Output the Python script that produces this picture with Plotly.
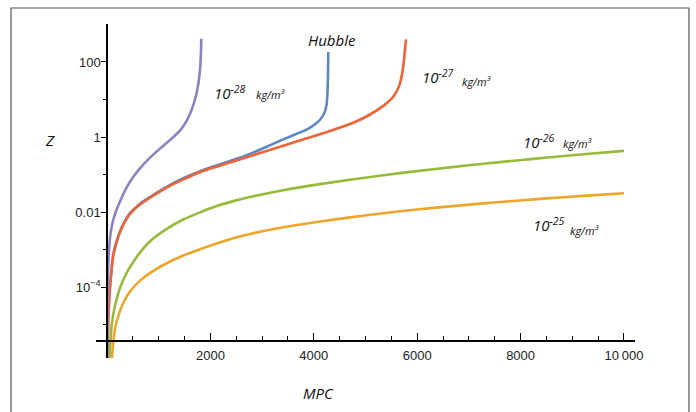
import plotly.graph_objects as go

# ---------------- data ----------------
# distance in Mpc, redshift z
hub_d = [6, 25, 58, 91, 116, 155, 232, 329, 445, 638, 832, 1155, 1476, 1799, 2379, 2766, 3056, 3346, 3636, 3863, 4023, 4120, 4197, 4246, 4265, 4275, 4280]
hub_z = [1e-6, 1.5e-5, 1.05e-4, 3.3e-4, 6.6e-4, 1.17e-3, 2.6e-3, 5.2e-3, 9.3e-3, 0.0166, 0.0251, 0.0468, 0.0794, 0.123, 0.229, 0.355, 0.525, 0.794, 1.17, 1.58, 2.19, 2.88, 4.17, 7.08, 15.8, 50, 186]

r27_d = [6, 25, 58, 91, 116, 155, 232, 329, 445, 638, 832, 1155, 1476, 1799, 2379, 3023, 3669, 4313, 4797, 5087, 5344, 5532, 5648, 5716, 5754, 5783]
r27_z = [1e-6, 1.45e-5, 1e-4, 3.16e-4, 6.3e-4, 1.12e-3, 2.5e-3, 5e-3, 8.9e-3, 0.0158, 0.024, 0.0447, 0.0741, 0.115, 0.209, 0.398, 0.759, 1.45, 2.51, 3.98, 6.76, 11.7, 22.4, 56, 158, 398]

r28_d = [2, 8, 25, 58, 97, 155, 251, 367, 509, 658, 832, 1025, 1219, 1412, 1547, 1644, 1721, 1770, 1805, 1818, 1824]
r28_z = [1e-6, 4e-5, 4e-4, 2e-3, 4.5e-3, 8.9e-3, 0.019, 0.042, 0.087, 0.158, 0.282, 0.49, 0.83, 1.48, 2.82, 5.62, 12.6, 28.2, 79, 200, 417]

r26_d = [44, 91, 155, 251, 381, 574, 832, 1155, 1476, 1799, 2122, 2443, 2766, 3410, 4056, 4700, 5344, 5990, 6634, 7279, 7925, 8569, 9213, 10000]
r26_z = [1e-6, 1e-5, 3.2e-5, 9.5e-5, 2.4e-4, 6.3e-4, 1.66e-3, 3.55e-3, 6.3e-3, 9.8e-3, 0.0145, 0.0195, 0.0251, 0.038, 0.0537, 0.0724, 0.0955, 0.123, 0.155, 0.193, 0.237, 0.288, 0.347, 0.427]

r25_d = [87, 155, 219, 315, 445, 638, 896, 1155, 1476, 1799, 2122, 2443, 2766, 3410, 4056, 4700, 5344, 5990, 6634, 7279, 7925, 8569, 9213, 10000]
r25_z = [1e-6, 7.9e-6, 1.7e-5, 3.8e-5, 7.6e-5, 1.48e-4, 2.7e-4, 4.3e-4, 6.9e-4, 1.02e-3, 1.45e-3, 2e-3, 2.6e-3, 3.9e-3, 5.4e-3, 7.2e-3, 9.3e-3, 0.0117, 0.0141, 0.017, 0.02, 0.0234, 0.0269, 0.0316]

x_tickvals = [2000, 4000, 6000, 8000, 10000]
x_ticktext = ["2000", "4000", "6000", "8000", "10\u2009000"]
y_tickvals = [1e-4, 1e-2, 1, 100]
y_ticktext = ["10<sup>\u22124</sup>", "0.01", "1", "100"]
y_minorvals = [1e-5, 1e-3, 0.1, 10]

# ---------------- styling ----------------
W, H = 696, 412
L, R, T, B = 96, 635, 24, 358   # plot area in pixels


def px(x):
    return (x - L) / (R - L)


def py(y):
    return (B - y) / (B - T)


series = [
    (hub_d, hub_z, "#5E86C4", "Hubble"),
    (r25_d, r25_z, "#EEA52B", "1e-25"),
    (r26_d, r26_z, "#98BA3A", "1e-26"),
    (r27_d, r27_z, "#EE6338", "1e-27"),
    (r28_d, r28_z, "#8E80C3", "1e-28"),
]

fig = go.Figure()
for d, z, c, n in series:
    fig.add_trace(go.Scatter(x=d, y=z, mode="lines", name=n,
                             line=dict(color=c, width=2.6, shape="spline", smoothing=0.7)))

tick_font = dict(family="Liberation Sans, Arial, sans-serif", size=13, color="#222")

fig.update_layout(
    width=W, height=H,
    margin=dict(l=L, r=W - R, t=T, b=H - B),
    paper_bgcolor="white", plot_bgcolor="white",
    showlegend=False,
    xaxis=dict(
        range=[-213, 10213], showgrid=False, zeroline=False,
        anchor="free", position=py(341),
        showline=True, linecolor="black", linewidth=2,
        tickmode="array", tickvals=x_tickvals, ticktext=x_ticktext,
        ticks="inside", ticklen=7, tickwidth=1, tickcolor="black",
        minor=dict(dtick=500, tick0=0, ticks="inside", ticklen=4, tickwidth=1, tickcolor="black"),
        tickfont=tick_font, ticklabelstandoff=2,
    ),
    yaxis=dict(
        type="log", range=[-5.893, 3.013], showgrid=False, zeroline=False,
        anchor="free", position=px(107),
        showline=True, linecolor="black", linewidth=1.5,
        tickmode="array", tickvals=y_tickvals, ticktext=y_ticktext,
        ticks="outside", ticklen=5, tickwidth=1, tickcolor="black",
        minor=dict(tickvals=y_minorvals, ticks="outside", ticklen=3, tickwidth=1, tickcolor="black"),
        tickfont=tick_font, ticklabelstandoff=-2,
    ),
)

lab_font = dict(family="Open Sans, sans-serif", size=15, color="#111")
small_font = dict(family="Open Sans, sans-serif", size=11, color="#111")


def ann(text, x, y, font, xanchor="left"):
    fig.add_annotation(text=text, x=px(x), y=py(y), xref="paper", yref="paper",
                       xanchor=xanchor, yanchor="middle", showarrow=False, font=font)


ital = lambda s: "<i>" + s + "</i>"

ann(ital("Z"), 50, 140, lab_font, "center")
ann(ital("MPC"), 318, 393, lab_font, "center")
ann(ital("Hubble"), 332, 40, dict(family="Open Sans, sans-serif", size=15, color="#111"), "center")

labels = [
    ("-28", 212, 92, 254, 94),
    ("-27", 420, 76, 460, 81),
    ("-26", 521, 141, 561, 143),
    ("-25", 531, 224, 568, 230),
]
for exp, x1, y1, x2, y2 in labels:
    ann(ital("10<sup>" + exp + "</sup>"), x1, y1, lab_font)
    ann(ital("kg/m<sup>3</sup>"), x2, y2, small_font)

# outer frame
fig.add_shape(type="rect", xref="paper", yref="paper",
              x0=px(11), x1=px(689), y0=py(430), y1=py(8),
              line=dict(color="#555", width=1.2), fillcolor="rgba(0,0,0,0)")

fig.write_html("out.html", config={"displayModeBar": False},
               post_script="document.body.style.margin='0';document.body.style.overflow='hidden';")
